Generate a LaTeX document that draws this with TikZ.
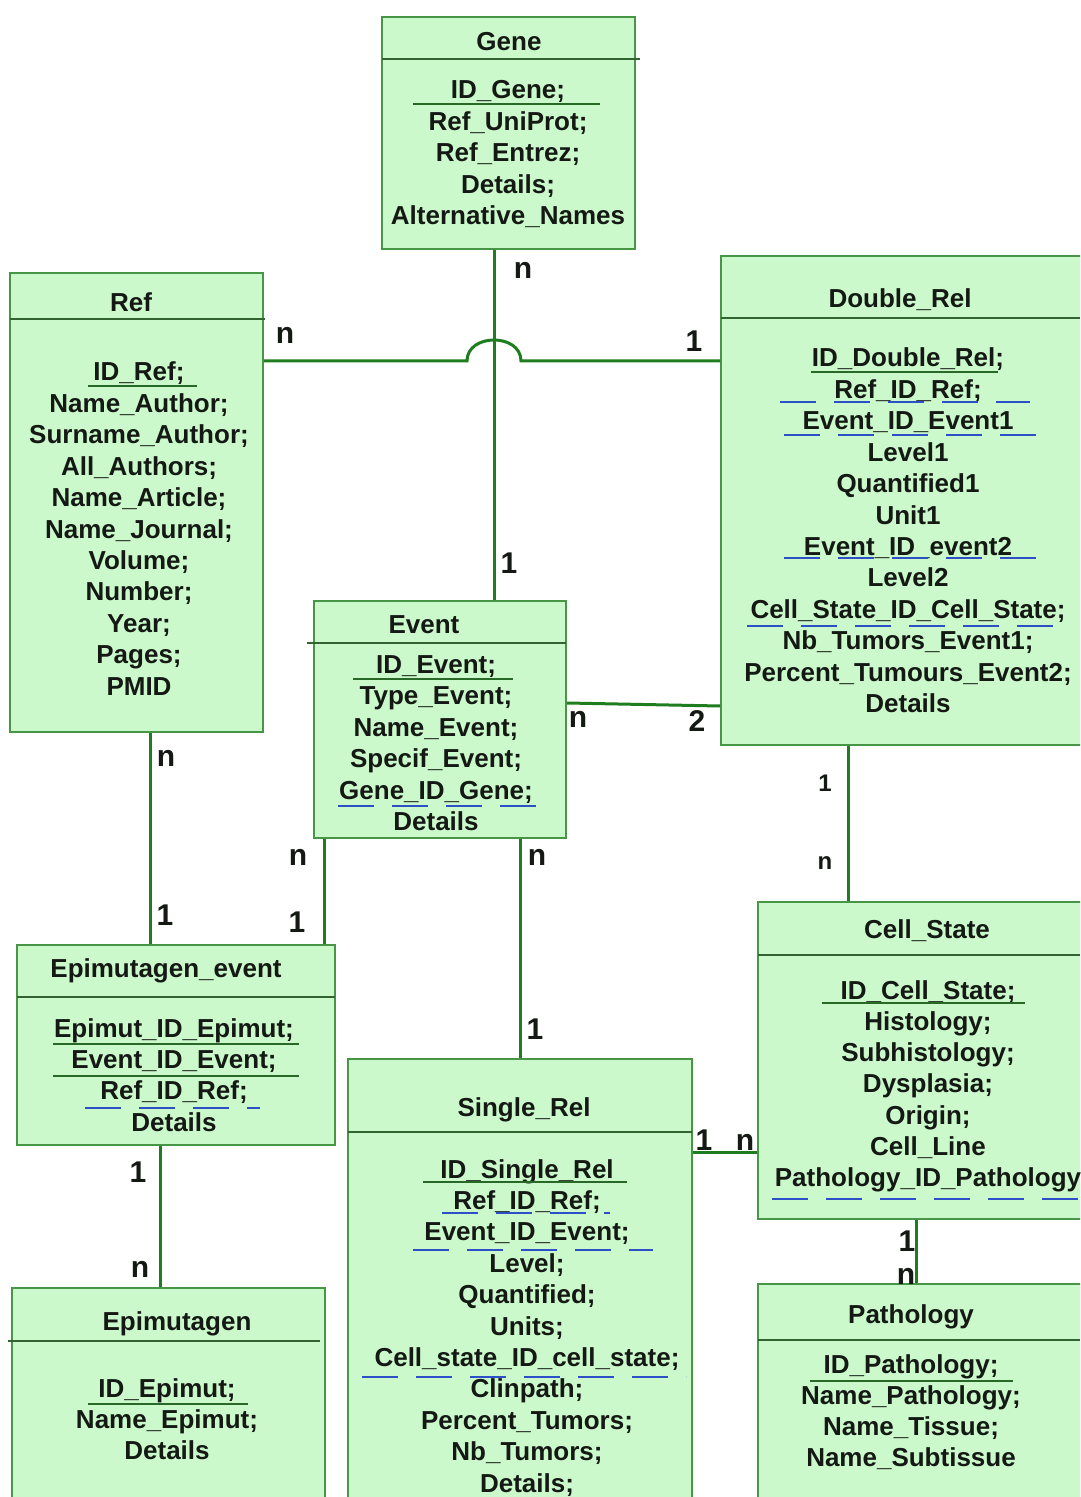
\documentclass[tikz,border=0pt]{standalone}
\usepackage{fontspec}
\setmainfont{Liberation Sans}
\usetikzlibrary{fit}

\definecolor{boxfill}{RGB}{204,249,204}
\definecolor{boxedge}{RGB}{70,150,70}
\definecolor{sepline}{RGB}{50,100,50}
\definecolor{relline}{RGB}{30,125,30}
\definecolor{pkline}{RGB}{40,105,40}
\definecolor{fkline}{RGB}{45,80,200}
\definecolor{ink}{RGB}{20,25,20}

\tikzset{
  entity/.style={draw=boxedge, fill=boxfill, line width=1pt, inner sep=0pt},
  sepr/.style={draw=sepline, line width=0.9pt},
  attr/.style={font=\fontsize{13}{15.7}\selectfont\bfseries, text=ink, anchor=base, inner sep=0pt},
  pk/.style={draw=pkline, line width=1pt},
  fk/.style={draw=fkline, line width=1pt, dash pattern=on 18pt off 9pt},
  rel/.style={draw=relline, line width=1.5pt},
  card/.style={font=\fontsize{15}{18}\selectfont\bfseries, text=ink, inner sep=0pt},
  smallcard/.style={card, font=\fontsize{12}{14}\selectfont\bfseries},
}

% one centred line per field, stacked downwards from the first baseline
\newcommand\fieldlist[5]{%
  \foreach \fld [count=\k from 0] in {#5}{
    \node[attr] (#1-\k) at (#2, {#3+#4*\k}) {\fld};
  }%
}

\begin{document}
\begin{tikzpicture}[x=0.5pt, y=-0.5pt]
\useasboundingbox (0,0) rectangle (1080,1497);
\clip (0,0) rectangle (1080,1497);
\fill[white] (0,0) rectangle (1080,1497);

% entity boxes
\node[entity, fit={(382,17)(635,249)}] (gene) {};
\node[entity, fit={(10,273)(263,732)}] (ref) {};
\node[entity, fit={(721,256)(1110,745)}] (dbl) {};
\node[entity, fit={(314,601)(566,838)}] (event) {};
\node[entity, fit={(17,945)(335,1145)}] (epev) {};
\node[entity, fit={(12,1288)(325,1530)}] (epim) {};
\node[entity, fit={(348,1059)(692,1530)}] (single) {};
\node[entity, fit={(758,902)(1110,1219)}] (cell) {};
\node[entity, fit={(758,1284)(1110,1530)}] (path) {};

% header separators
\draw[sepr] (382,59) -- (640,59);
\draw[sepr] (10,319) -- (265,319);
\draw[sepr] (721,318) -- (1080,318);
\draw[sepr] (307,643) -- (566,643);
\draw[sepr] (17,997) -- (335,997);
\draw[sepr] (8,1341) -- (320,1341);
\draw[sepr] (348,1132) -- (692,1132);
\draw[sepr] (758,955) -- (1080,955);
\draw[sepr] (758,1340) -- (1080,1340);

% titles
\node[attr] (gene-t) at (509,51) {Gene};
\node[attr] (ref-t) at (131,312) {Ref};
\node[attr] (dbl-t) at (900,308) {Double\_Rel};
\node[attr] (event-t) at (424,633) {Event};
\node[attr] (epev-t) at (166,977) {Epimutagen\_event};
\node[attr] (epim-t) at (177,1330) {Epimutagen};
\node[attr] (single-t) at (524,1116) {Single\_Rel};
\node[attr] (cell-t) at (927,938) {Cell\_State};
\node[attr] (path-t) at (911,1323) {Pathology};

% fields
\fieldlist{gene}{508}{99}{31.4}{ID\_Gene;, Ref\_UniProt;, Ref\_Entrez;, Details;, Alternative\_Names}
\fieldlist{ref}{139}{381}{31.4}{ID\_Ref;, Name\_Author;, Surname\_Author;, All\_Authors;, Name\_Article;, Name\_Journal;, Volume;, Number;, Year;, Pages;, PMID}
\fieldlist{dbl}{908}{367}{31.4}{ID\_Double\_Rel;, Ref\_ID\_Ref;, Event\_ID\_Event1, Level1, Quantified1, Unit1, Event\_ID\_event2, Level2, Cell\_State\_ID\_Cell\_State;, Nb\_Tumors\_Event1;, Percent\_Tumours\_Event2;, Details}
\fieldlist{event}{436}{673}{31.5}{ID\_Event;, Type\_Event;, Name\_Event;, Specif\_Event;, Gene\_ID\_Gene;, Details}
\fieldlist{epev}{174}{1037}{31.4}{Epimut\_ID\_Epimut;, Event\_ID\_Event;, Ref\_ID\_Ref;, Details}
\fieldlist{epim}{167}{1397}{31.4}{ID\_Epimut;, Name\_Epimut;, Details}
\fieldlist{single}{527}{1178}{31.4}{ID\_Single\_Rel, Ref\_ID\_Ref;, Event\_ID\_Event;, Level;, Quantified;, Units;, Cell\_state\_ID\_cell\_state;, Clinpath;, Percent\_Tumors;, Nb\_Tumors;, Details;}
\fieldlist{cell}{928}{999}{31.3}{ID\_Cell\_State;, Histology;, Subhistology;, Dysplasia;, Origin;, Cell\_Line, Pathology\_ID\_Pathology}
\fieldlist{path}{911}{1373}{31.3}{ID\_Pathology;, Name\_Pathology;, Name\_Tissue;, Name\_Subtissue}

% primary keys (solid) and foreign keys (dashed)
\draw[pk] (413,104) -- (600,104);
\draw[pk] (88,386) -- (197,386);
\draw[pk] (811,372) -- (998,372);
\draw[fk] (780,402) -- (1030,402);
\draw[fk] (784,435) -- (1036,435);
\draw[fk] (784,558) -- (1036,558);
\draw[fk] (747,626) -- (1054,626);
\draw[pk] (353,679) -- (513,679);
\draw[fk] (338,806) -- (536,806);
\draw[pk] (53,1044) -- (299,1044);
\draw[pk] (53,1076) -- (299,1076);
\draw[fk] (85,1108) -- (260,1108);
\draw[pk] (88,1404) -- (248,1404);
\draw[pk] (423,1182) -- (627,1182);
\draw[fk] (442,1213) -- (610,1213);
\draw[fk] (413,1250) -- (653,1250);
\draw[fk] (362,1377) -- (686,1377);
\draw[pk] (822,1003) -- (1025,1003);
\draw[fk] (772,1199) -- (1080,1199);
\draw[pk] (810,1381) -- (1013,1381);

% connector positions
\coordinate (k494) at (494,0);
\coordinate (k848) at (848,0);
\coordinate (k150) at (150,0);
\coordinate (k324) at (324,0);
\coordinate (k520) at (520,0);
\coordinate (k160) at (160,0);
\coordinate (k916) at (916,0);
\coordinate (h703) at (0,703);
\coordinate (h706) at (0,706);
\coordinate (h1152) at (0,1152);
\coordinate (hopL) at (467,361);
\coordinate (hopR) at (521,361);

% relationships
\draw[rel] (gene.south -| k494) -- (event.north -| k494);
\draw[rel] (ref.east |- hopL) -- (hopL) .. controls (467,333) and (521,333) .. (hopR) -- (dbl.west |- hopR);
\draw[rel] (event.east |- h703) -- (dbl.west |- h706);
\draw[rel] (dbl.south -| k848) -- (cell.north -| k848);
\draw[rel] (ref.south -| k150) -- (epev.north -| k150);
\draw[rel] (event.south -| k324) -- (epev.north -| k324);
\draw[rel] (event.south -| k520) -- (single.north -| k520);
\draw[rel] (epev.south -| k160) -- (epim.north -| k160);
\draw[rel] (single.east |- h1152) -- (cell.west |- h1152);
\draw[rel] (cell.south -| k916) -- (path.north -| k916);

% cardinalities
\node[card] (c1) at (523,270) {n};
\node[card] (c2) at (509,563) {1};
\node[card] (c3) at (285,335) {n};
\node[card] (c4) at (694,341) {1};
\node[card] (c5) at (578,719) {n};
\node[card] (c6) at (697,721) {2};
\node[smallcard] (c7) at (825,783) {1};
\node[smallcard] (c8) at (825,863) {n};
\node[card] (c9) at (166,758) {n};
\node[card] (c10) at (165,915) {1};
\node[card] (c11) at (298,857) {n};
\node[card] (c12) at (297,922) {1};
\node[card] (c13) at (537,857) {n};
\node[card] (c14) at (535,1029) {1};
\node[card] (c15) at (138,1172) {1};
\node[card] (c16) at (140,1269) {n};
\node[card] (c17) at (704,1140) {1};
\node[card] (c18) at (745,1142) {n};
\node[card] (c19) at (907,1241) {1};
\node[card] (c20) at (906,1276) {n};
\end{tikzpicture}
\end{document}
